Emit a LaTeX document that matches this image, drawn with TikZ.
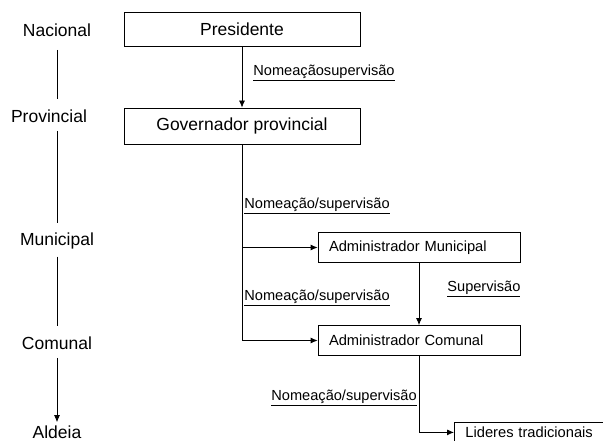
\documentclass[tikz,border=0pt]{standalone}
\usepackage{fontspec}
\setmainfont{Liberation Sans}
\usetikzlibrary{arrows.meta}
\begin{document}
\begin{tikzpicture}[x=1pt,y=-1pt,line width=0.8pt,
  lvl/.style={font=\fontsize{17.5}{20}\selectfont, inner sep=0pt},
  bigbox/.style={draw, minimum width=236pt, inner sep=0pt, font=\fontsize{17.5}{20}\selectfont},
  smallbox/.style={draw, font=\fontsize{14.7}{17}\selectfont, text width=180pt,
    inner xsep=11pt, inner ysep=0pt, align=left, minimum height=30pt},
  rel/.style={font=\fontsize{14.6}{17}\selectfont, inner sep=0pt, anchor=west},
  arr/.style={-{Latex[length=7pt,width=6pt]}}]
\useasboundingbox (0,0) rectangle (603,441);

% administrative levels
\node[lvl] (nac) at (57,30) {Nacional};
\node[lvl] (prov) at (49,116) {Provincial};
\node[lvl] (mun) at (57,241) {Municipal};
\node[lvl] (comu) at (57,343) {Comunal};
\node[lvl] (ald) at (57,432) {Aldeia};

\draw[shorten <=13pt, shorten >=10pt] (nac.south) -- (nac.south |- prov.north);
\draw[shorten <=8pt, shorten >=9pt] (mun.north |- prov.south) -- (mun.north);
\draw[shorten <=7pt, shorten >=10pt] (mun.south) -- (comu.north);
\draw[arr, shorten <=8pt, shorten >=3pt] (comu.south) -- (ald.north);

% offices
\node[bigbox, minimum height=34pt] (pres) at (242,29) {Presidente};
\node[bigbox, minimum height=36pt] (gov) at (242,126) {Governador provincial};
\node[smallbox] (amun) at (419,247.5) {Administrador Municipal};
\node[smallbox] (acom) at (419,340.5) {Administrador Comunal};
\node[smallbox, anchor=north west, text width=130pt, minimum height=20pt] (lid) at (454,422) {Lideres tradicionais};

% lines of authority
\draw[arr] (pres.south) -- (gov.north);
\draw[arr] (gov.south) |- (acom.west);
\draw[arr] (gov.south |- amun.west) -- (amun.west);
\draw[arr] (amun.south) -- (acom.north);
\draw[arr] (acom.south) |- (lid.west);

% relation labels
\node[rel] (l1) at (253,73) {\underline{Nomeaçãosupervisão}};
\node[rel] (l2) at (244,206) {\underline{Nomeação/supervisão}};
\node[rel] (l3) at (244,298) {\underline{Nomeação/supervisão}};
\node[rel] (l4) at (447,289) {\underline{Supervisão}};
\node[rel] (l5) at (271,398) {\underline{Nomeação/supervisão}};
\end{tikzpicture}
\end{document}
